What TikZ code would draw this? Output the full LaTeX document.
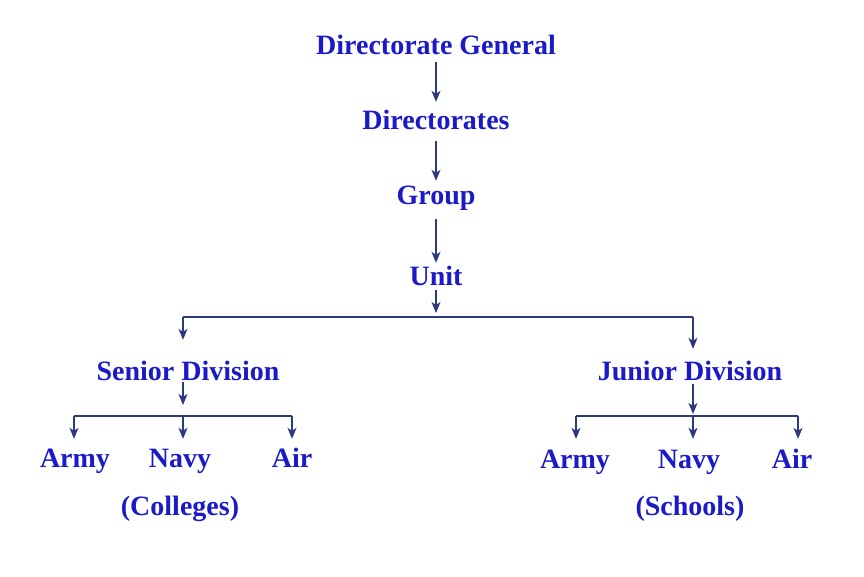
\documentclass[tikz,border=0pt]{standalone}
\usepackage{fontspec}
\setmainfont{Liberation Serif}
\usetikzlibrary{arrows.meta,calc}
\definecolor{txtblue}{HTML}{1A1AC8}
\definecolor{lnblue}{HTML}{2B3A7E}
\begin{document}
\begin{tikzpicture}[x=1pt,y=-1pt,
  lbl/.style={font=\fontsize{28}{32}\selectfont\bfseries, text=txtblue, inner sep=0pt, text height=20pt, text depth=6pt, anchor=base},
  arr/.style={draw=lnblue, line width=1.4pt, -{Stealth[length=11pt,width=9pt,inset=3pt]}},
  ln/.style={draw=lnblue, line width=1.4pt}]
\useasboundingbox (0,0) rectangle (864,576);
% nodes
\node[lbl] (dg) at (436,54) {Directorate General};
\node[lbl] (dirs) at (436,129) {Directorates};
\node[lbl] (grp) at (436,204) {Group};
\node[lbl] (unit) at (436,285) {Unit};
\node[lbl] (sen) at (188,380) {Senior Division};
\node[lbl] (jun) at (690,380) {Junior Division};
\node[lbl] (sarmy) at (75,467) {Army};
\node[lbl] (snavy) at (180,467) {Navy};
\node[lbl] (sair) at (292,467) {Air};
\node[lbl] (coll) at (180,515) {(Colleges)};
\node[lbl] (jarmy) at (575,468) {Army};
\node[lbl] (jnavy) at (689,468) {Navy};
\node[lbl] (jair) at (792,468) {Air};
\node[lbl] (sch) at (690,515) {(Schools)};
% coordinates
\coordinate (hub) at (436,317);
\coordinate (hl) at (183,317);
\coordinate (hr) at (693,317);
\coordinate (sh) at (183,416);
\coordinate (shl) at (74,416);
\coordinate (shr) at (292,416);
\coordinate (jh) at (693,416);
\coordinate (jhl) at (576,416);
\coordinate (jhr) at (798,416);
% top chain
\draw[arr, shorten <=2pt, shorten >=7pt] (dg.south) -- (dirs.north);
\draw[arr, shorten <=6pt, shorten >=3pt] (dirs.south) -- (grp.north);
\draw[arr, shorten <=9pt, shorten >=2pt] (grp.south) -- (unit.north);
\draw[arr, shorten <=-1pt, shorten >=4pt] (unit.south) -- (hub);
\draw[ln] (hl) -- (hr);
\draw[arr, shorten >=20pt] (hl) -- (hl |- sen.north);
\draw[arr, shorten >=11pt] (hr) -- (hr |- jun.north);
% senior branch
\draw[arr, shorten <=-4pt, shorten >=11pt] (sh |- sen.south) -- (sh);
\draw[ln] (shl) -- (shr);
\draw[arr, shorten >=8pt] (shl) -- (shl |- sarmy.north);
\draw[arr, shorten >=8pt] (sh) -- (sh |- snavy.north);
\draw[arr, shorten >=8pt] (shr) -- (shr |- sair.north);
% junior branch
\draw[arr, shorten <=-2pt, shorten >=2pt] (jh |- jun.south) -- (jh);
\draw[ln] (jhl) -- (jhr);
\draw[arr, shorten >=9pt] (jhl) -- (jhl |- jarmy.north);
\draw[arr, shorten >=9pt] (jh) -- (jh |- jnavy.north);
\draw[arr, shorten >=9pt] (jhr) -- (jhr |- jair.north);
\end{tikzpicture}
\end{document}
